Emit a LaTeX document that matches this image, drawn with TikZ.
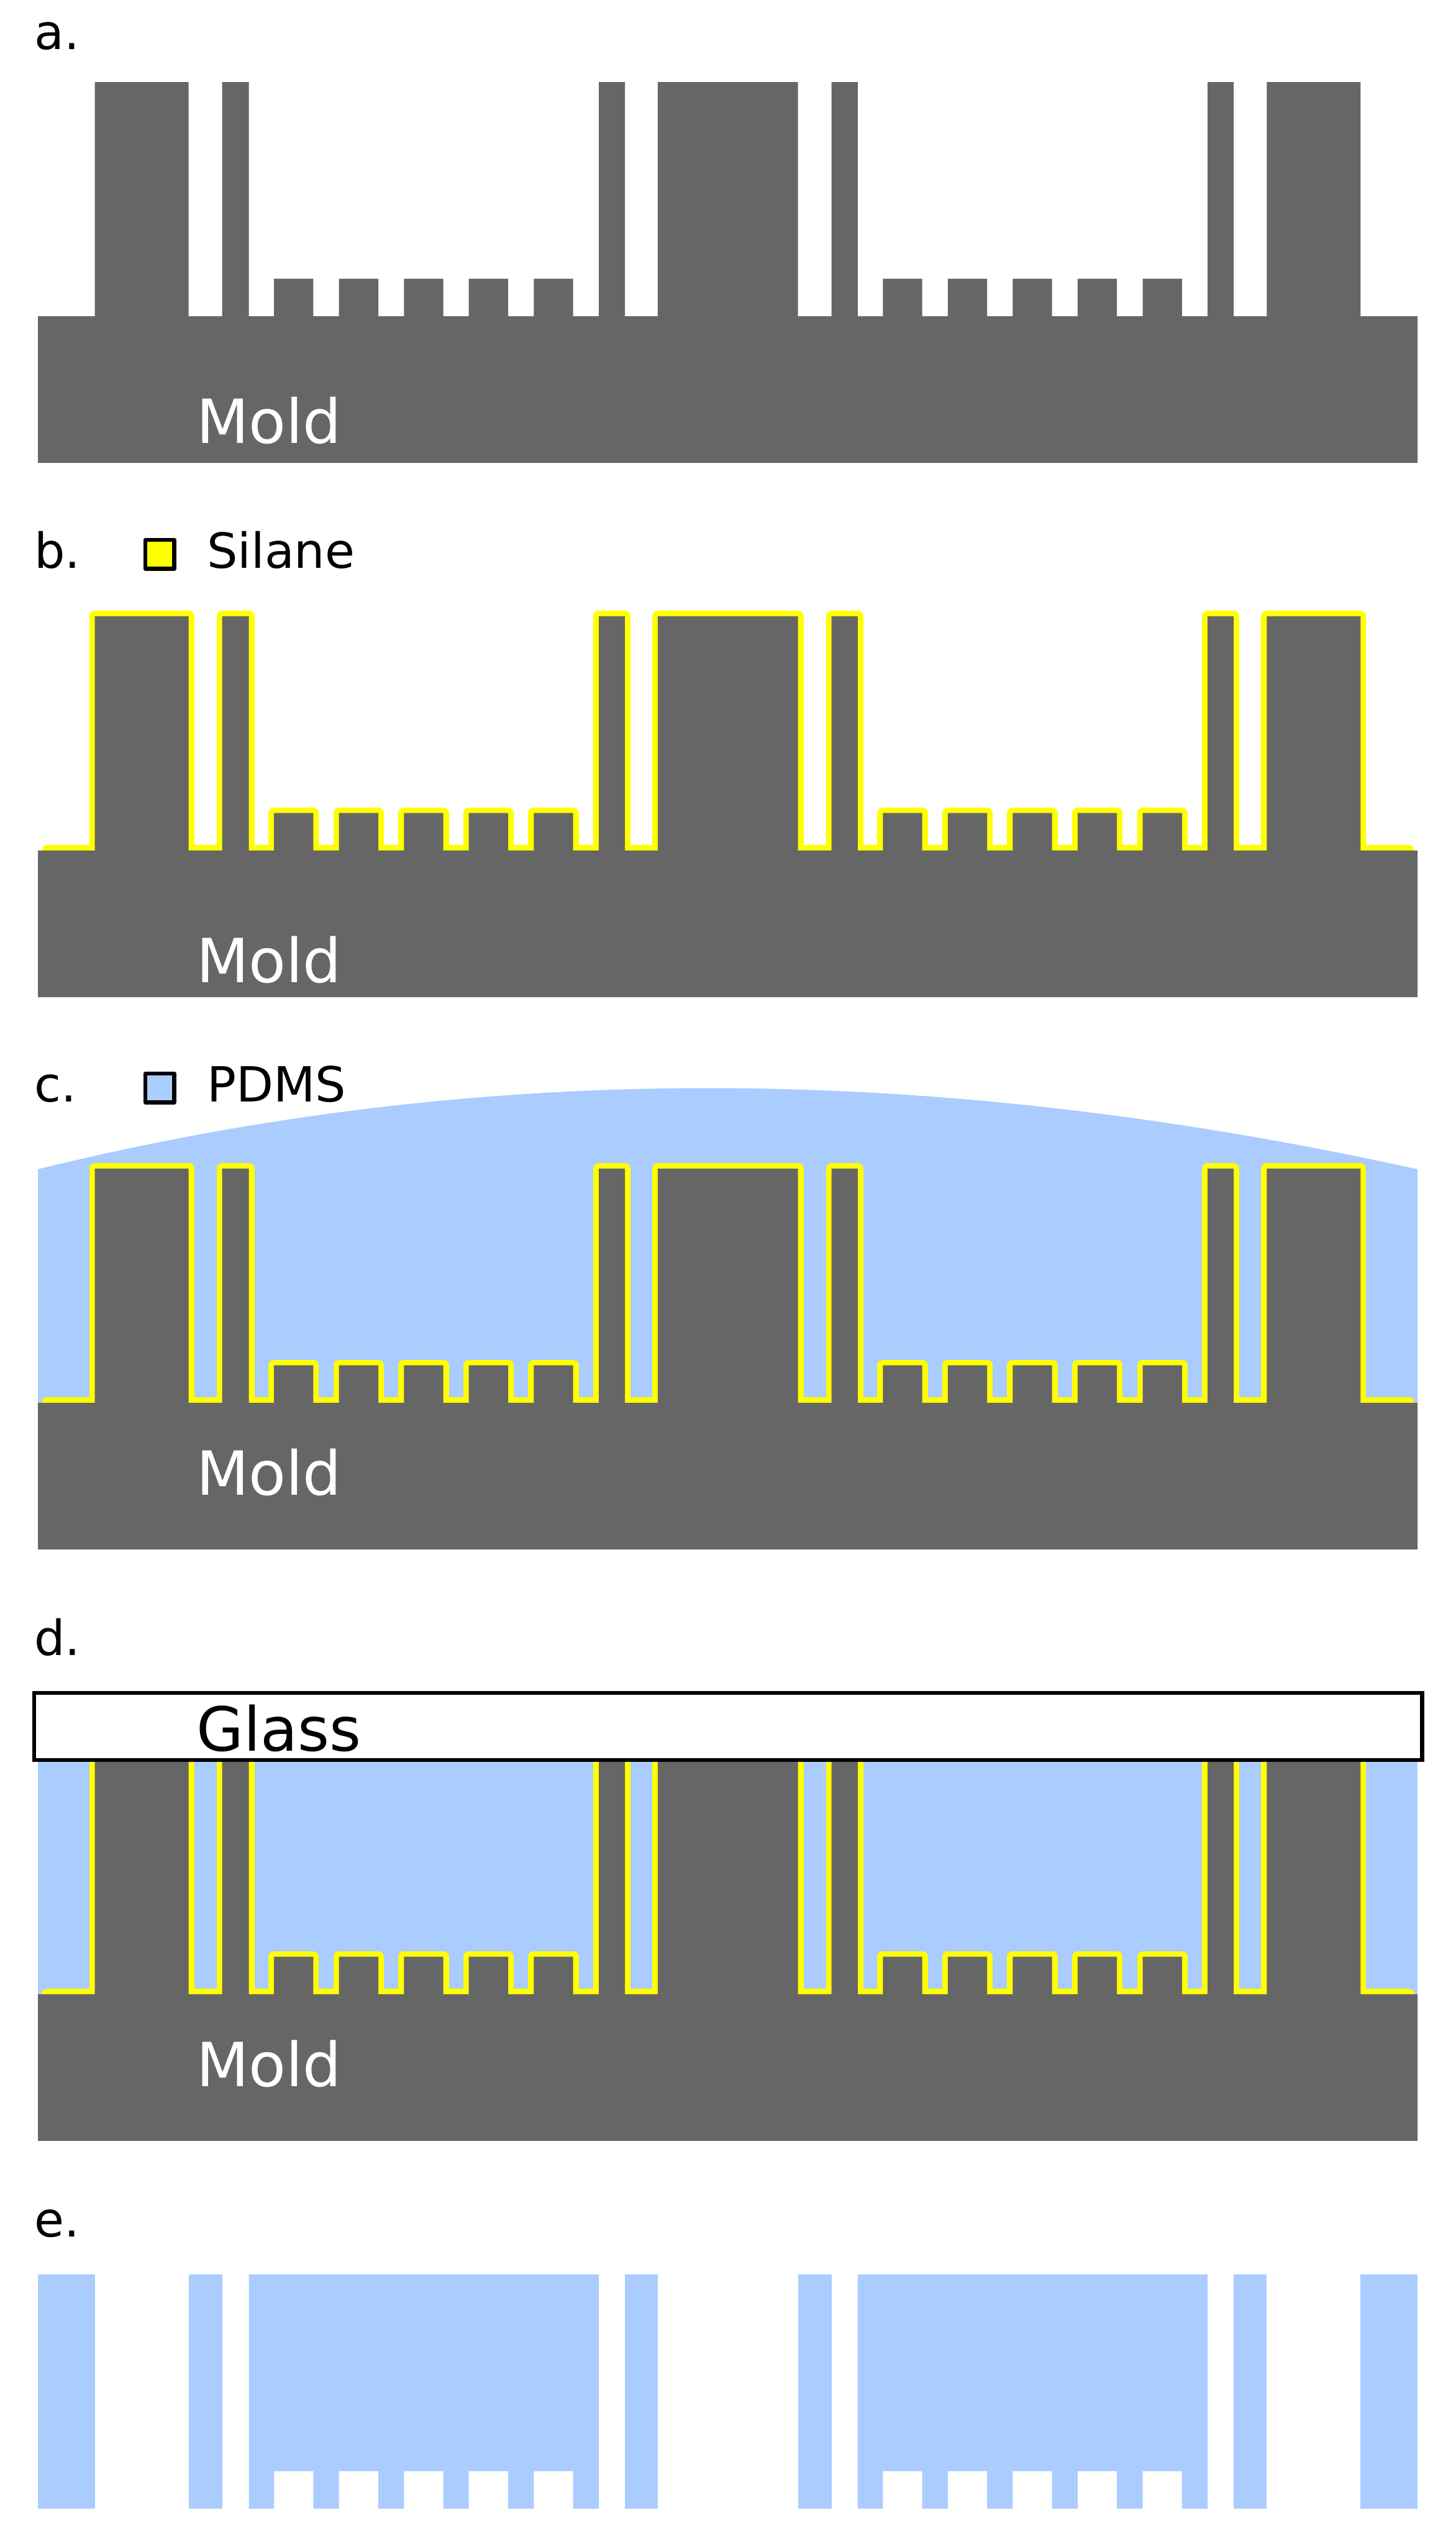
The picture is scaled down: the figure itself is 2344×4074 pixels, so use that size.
\documentclass[tikz,border=0pt]{standalone}
\usepackage{fontspec}
\setmainfont{DejaVu Sans}
\definecolor{moldgray}{HTML}{666666}
\definecolor{silane}{HTML}{FFFF00}
\definecolor{pdms}{HTML}{AACCFF}
\newcommand{\labelfont}{\fontsize{78}{78}\selectfont}
\newcommand{\moldfont}{\fontsize{98}{98}\selectfont}
% relief between the two outer ends, base level at y=0
\newcommand{\toothrun}{%
 -- (441.2,0) -- (441.2,-60.5) -- (504.4,-60.5) -- (504.4,0)
 -- (545.7,0) -- (545.7,-60.5) -- (609.1,-60.5) -- (609.1,0)
 -- (650.3,0) -- (650.3,-60.5) -- (713.6,-60.5) -- (713.6,0)
 -- (754.7,0) -- (754.7,-60.5) -- (818.1,-60.5) -- (818.1,0)
 -- (859.4,0) -- (859.4,-60.5) -- (922.7,-60.5) -- (922.7,0)}
\newcommand{\toothrunB}{%
 -- (1421.3,0) -- (1421.3,-60.5) -- (1484.5,-60.5) -- (1484.5,0)
 -- (1525.8,0) -- (1525.8,-60.5) -- (1589.2,-60.5) -- (1589.2,0)
 -- (1630.4,0) -- (1630.4,-60.5) -- (1693.7,-60.5) -- (1693.7,0)
 -- (1734.8,0) -- (1734.8,-60.5) -- (1798.2,-60.5) -- (1798.2,0)
 -- (1839.5,0) -- (1839.5,-60.5) -- (1902.8,-60.5) -- (1902.8,0)}
\newcommand{\relief}{%
 -- (152.6,0) -- (152.6,-377) -- (303.7,-377) -- (303.7,0)
 -- (357.5,0) -- (357.5,-377) -- (400.5,-377) -- (400.5,0)
 \toothrun
 -- (964,0) -- (964,-377) -- (1006,-377) -- (1006,0)
 -- (1058.8,0) -- (1058.8,-377) -- (1284.7,-377) -- (1284.7,0)
 -- (1338.5,0) -- (1338.5,-377) -- (1380.8,-377) -- (1380.8,0)
 \toothrunB
 -- (1944,0) -- (1944,-377) -- (1986,-377) -- (1986,0)
 -- (2039.4,0) -- (2039.4,-377) -- (2190.3,-377) -- (2190.3,0)}
\newcommand{\moldbody}{\fill[moldgray] (61,0) \relief -- (2282,0) -- (2282,236) -- (61,236) -- cycle;}
\newcommand{\silanelayer}{\draw[silanecoat] (76,0) \relief -- (2268,0);}
\tikzset{
 silanecoat/.style={draw=silane,line width=18pt,line join=round,line cap=round},
 panellabel/.style={anchor=base west,inner sep=0pt,font=\labelfont,text=black},
 moldlabel/.style={anchor=base west,inner sep=0pt,font=\moldfont,text=white},
 legendbox/.style={draw=black,line width=6.5pt,line join=round},
}
\begin{document}
\begin{tikzpicture}[x=1pt,y=-1pt]
\useasboundingbox (0,0) rectangle (2344,4074);
\fill[white] (0,0) rectangle (2344,4074);

% a
\node[panellabel] (la) at (55,79) {a.};
\begin{scope}[shift={(0,509)}]
 \moldbody
\end{scope}
\node[moldlabel] (ma) at (316,713) {Mold};

% b
\node[panellabel] (lb) at (55,914) {b.};
\filldraw[legendbox,fill=silane] (234,869) rectangle (280.5,915.5);
\node[panellabel] (ls) at (333,914) {Silane};
\begin{scope}[shift={(0,1369)}]
 \silanelayer
 \moldbody
\end{scope}
\node[moldlabel] (mb) at (316,1581) {Mold};

% c
\node[panellabel] (lc) at (55,1773) {c.};
\fill[pdms] (61,2258) -- (61,1882) .. controls (770,1708) and (1490,1708) .. (2282,1882) -- (2282,2258) -- cycle;
\filldraw[legendbox,fill=pdms] (234,1728) rectangle (280.5,1774.5);
\node[panellabel] (lp) at (333,1773) {PDMS};
\begin{scope}[shift={(0,2258)}]
 \silanelayer
 \moldbody
\end{scope}
\node[moldlabel] (mc) at (316,2406) {Mold};

% d
\node[panellabel] (ld) at (55,2664) {d.};
\fill[pdms] (61,2833) rectangle (2282,3210);
\begin{scope}[shift={(0,3210)}]
 \silanelayer
 \moldbody
\end{scope}
\filldraw[draw=black,line width=6.5pt,fill=white] (55,2725) rectangle (2289.5,2833);
\node[anchor=base west,inner sep=0pt,font=\moldfont,text=black] (gl) at (316,2818.6) {Glass};
\node[moldlabel] (md) at (316,3358) {Mold};

% e
\node[panellabel] (le) at (55,3600) {e.};
\begin{scope}[shift={(0,4038)}]
 \fill[pdms] (61,0) rectangle (152.6,-377);
 \fill[pdms] (303.7,0) rectangle (357.5,-377);
 \fill[pdms] (400.5,-377) -- (964,-377) -- (964,0) -- (922.7,0) -- (922.7,-60.5) -- (859.4,-60.5) -- (859.4,0)
   -- (818.1,0) -- (818.1,-60.5) -- (754.7,-60.5) -- (754.7,0)
   -- (713.6,0) -- (713.6,-60.5) -- (650.3,-60.5) -- (650.3,0)
   -- (609.1,0) -- (609.1,-60.5) -- (545.7,-60.5) -- (545.7,0)
   -- (504.4,0) -- (504.4,-60.5) -- (441.2,-60.5) -- (441.2,0) -- (400.5,0) -- cycle;
 \fill[pdms] (1006,0) rectangle (1058.8,-377);
 \fill[pdms] (1284.7,0) rectangle (1338.5,-377);
 \fill[pdms] (1380.8,-377) -- (1944,-377) -- (1944,0) -- (1902.8,0) -- (1902.8,-60.5) -- (1839.5,-60.5) -- (1839.5,0)
   -- (1798.2,0) -- (1798.2,-60.5) -- (1734.8,-60.5) -- (1734.8,0)
   -- (1693.7,0) -- (1693.7,-60.5) -- (1630.4,-60.5) -- (1630.4,0)
   -- (1589.2,0) -- (1589.2,-60.5) -- (1525.8,-60.5) -- (1525.8,0)
   -- (1484.5,0) -- (1484.5,-60.5) -- (1421.3,-60.5) -- (1421.3,0) -- (1380.8,0) -- cycle;
 \fill[pdms] (1986,0) rectangle (2039.4,-377);
 \fill[pdms] (2190.3,0) rectangle (2282,-377);
\end{scope}
\end{tikzpicture}
\end{document}
